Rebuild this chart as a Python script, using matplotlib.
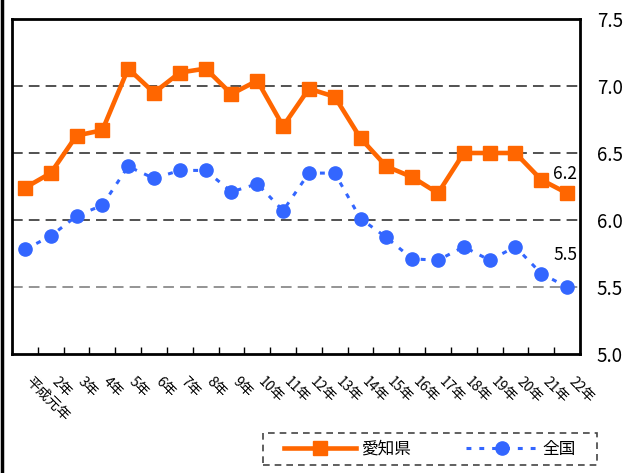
import matplotlib
matplotlib.use("Agg")
import matplotlib.pyplot as plt
from matplotlib.lines import Line2D
from matplotlib.patches import Rectangle
from matplotlib.transforms import ScaledTranslation

plt.rcParams['font.family'] = ['Noto Sans CJK JP', 'DejaVu Sans']

categories = ["平成元年", "2年", "3年", "4年", "5年", "6年", "7年", "8年", "9年", "10年",
              "11年", "12年", "13年", "14年", "15年", "16年", "17年", "18年", "19年",
              "20年", "21年", "22年"]
aichi = [6.24, 6.35, 6.63, 6.67, 7.13, 6.95, 7.10, 7.13, 6.94, 7.04, 6.70,
         6.98, 6.92, 6.61, 6.40, 6.32, 6.20, 6.50, 6.50, 6.50, 6.30, 6.20]
zenkoku = [5.78, 5.88, 6.03, 6.11, 6.40, 6.31, 6.37, 6.37, 6.21, 6.27, 6.07,
           6.35, 6.35, 6.01, 5.87, 5.71, 5.70, 5.80, 5.70, 5.80, 5.60, 5.50]
yticks = [5.0, 5.5, 6.0, 6.5, 7.0, 7.5]
series_names = ["愛知県", "全国"]

fig = plt.figure(figsize=(6.29, 4.73), dpi=100)
ax = fig.add_axes([12/629, 1-354/473, 568/629, 335/473])
x = list(range(len(categories)))

orange = "#FF6600"
blue = "#3366FF"
blue_ls = (0, (1.6, 2.6))

for yv in [5.5, 6.0, 6.5, 7.0]:
    ax.axhline(yv, color=("#777777" if yv == 5.5 else "#222222"), lw=1.1,
               dashes=(7, 4), zorder=1)

ax.plot(x, aichi, color=orange, lw=3.3, marker="s", ms=10, zorder=3)
ax.plot(x, zenkoku, color=blue, lw=2.2, ls=blue_ls, marker="o", ms=9.5,
        zorder=3)

ax.text(x[-1] + 0.4, 6.34, f"{aichi[-1]:.1f}", ha="right", va="center", fontsize=12.5)
ax.text(x[-1] + 0.4, 5.74, f"{zenkoku[-1]:.1f}", ha="right", va="center", fontsize=12.5)

ax.set_xlim(-0.5, len(categories) - 0.5)
ax.set_ylim(5.0, 7.5)
ax.set_yticks(yticks)
ax.set_yticklabels([f"{v:.1f}" for v in yticks], fontsize=13.5)
ax.yaxis.tick_right()
ax.tick_params(axis="y", length=0, pad=12)

ax.set_xticks(x)
ax.set_xticklabels(categories, rotation=-45, ha="left", va="top",
                   rotation_mode="anchor", fontsize=10)
ax.tick_params(axis="x", which="major", length=0, pad=15)
offset = ScaledTranslation(6/72, 0, fig.dpi_scale_trans)
for lab in ax.get_xticklabels():
    lab.set_transform(lab.get_transform() + offset)
ax.set_xticks([i + 0.5 for i in x[:-1]], minor=True)
ax.tick_params(axis="x", which="minor", direction="in", length=5, width=1)

for s in ax.spines.values():
    s.set_linewidth(2)
    s.set_color("black")

handles = [Line2D([], [], color=orange, lw=3.3, marker="s", ms=10),
           Line2D([], [], color=blue, lw=2.2, ls=blue_ls, marker="o", ms=9.5)]
leg = fig.legend(handles, series_names, loc="center", ncol=2,
                 bbox_to_anchor=(430/629, 1-449/473), fontsize=12,
                 frameon=False, handlelength=4.3,
                 columnspacing=3.3, handletextpad=0.3)
fig.add_artist(Rectangle((263/629, 1-465/473), 334/629, 32/473,
                         transform=fig.transFigure, fill=False,
                         edgecolor="#444444", lw=1.2, ls=(0, (4, 3))))

fig.add_artist(Line2D([2/629, 2/629], [0, 1], color="black", lw=2.5,
                      transform=fig.transFigure))

fig.savefig("out.png", dpi=100)
